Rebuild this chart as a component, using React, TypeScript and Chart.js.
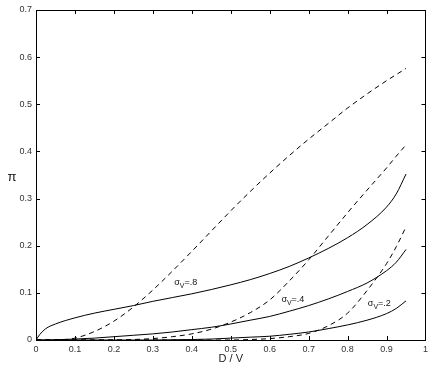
import React, { useEffect, useRef } from "react";
import { Chart, registerables } from "chart.js";

Chart.register(...registerables);

const xValues = [0, 0.01, 0.025, 0.05, 0.1, 0.15, 0.2, 0.25, 0.3, 0.35, 0.4, 0.45, 0.5, 0.55, 0.6, 0.65, 0.7, 0.75, 0.8, 0.85, 0.9, 0.925, 0.95];

const solid08 = [0, 0.012, 0.024, 0.034, 0.047, 0.057, 0.065, 0.073, 0.082, 0.09, 0.098, 0.107, 0.117, 0.128, 0.141, 0.156, 0.174, 0.194, 0.217, 0.245, 0.282, 0.31, 0.352];
const solid04 = [0, 0, 0, 0.0005, 0.002, 0.004, 0.007, 0.01, 0.013, 0.017, 0.022, 0.027, 0.034, 0.042, 0.05, 0.061, 0.073, 0.087, 0.103, 0.121, 0.147, 0.165, 0.192];
const solid02 = [0, 0, 0, 0, 0, 0, 0, 0, 0, 0.0005, 0.001, 0.002, 0.004, 0.006, 0.008, 0.012, 0.017, 0.024, 0.032, 0.042, 0.056, 0.067, 0.083];
const dashed08 = [0, 0, 0, 0, 0.004, 0.018, 0.04, 0.07, 0.106, 0.146, 0.188, 0.231, 0.274, 0.315, 0.354, 0.391, 0.426, 0.459, 0.492, 0.522, 0.55, 0.563, 0.576];
const dashed04 = [0, 0, 0, 0, 0, 0, 0, 0.001, 0.003, 0.007, 0.013, 0.023, 0.038, 0.058, 0.085, 0.125, 0.17, 0.22, 0.27, 0.318, 0.365, 0.39, 0.414];
const dashed02 = [0, 0, 0, 0, 0, 0, 0, 0, 0, 0, 0, 0, 0, 0.001, 0.003, 0.007, 0.014, 0.03, 0.057, 0.105, 0.162, 0.198, 0.24];

const xTickValues = [0, 0.1, 0.2, 0.3, 0.4, 0.5, 0.6, 0.7, 0.8, 0.9, 1];
const xTickLabels = ["0", "0.1", "0.2", "0.3", "0.4", "0.5", "0.6", "0.7", "0.8", "0.9", "1"];
const yTickValues = [0, 0.1, 0.2, 0.3, 0.4, 0.5, 0.6, 0.7];
const yTickLabels = ["0", "0.1", "0.2", "0.3", "0.4", "0.5", "0.6", "0.7"];

const curveLabels = [
  { x: 0.355, y: 0.117, sub: "V", text: "=.8" },
  { x: 0.63, y: 0.081, sub: "V", text: "=.4" },
  { x: 0.852, y: 0.072, sub: "V", text: "=.2" },
];

const FONT = "'Liberation Sans', Arial, sans-serif";

function pts(ys: number[]) {
  return xValues.map((x, i) => ({ x, y: ys[i] }));
}

const framePlugin = {
  id: "frame",
  afterDraw(chart: any) {
    const ctx = chart.ctx;
    const { left, right, top, bottom } = chart.chartArea;
    const xs = chart.scales.x;
    const ys = chart.scales.y;
    ctx.save();
    ctx.strokeStyle = "#000";
    ctx.lineWidth = 1;
    ctx.beginPath();
    ctx.rect(Math.round(left) + 0.5, Math.round(top) + 0.5, Math.round(right - left), Math.round(bottom - top));
    ctx.stroke();
    const L = 4;
    ctx.beginPath();
    xTickValues.forEach((v) => {
      const px = Math.round(xs.getPixelForValue(v)) + 0.5;
      ctx.moveTo(px, bottom);
      ctx.lineTo(px, bottom - L);
      ctx.moveTo(px, top);
      ctx.lineTo(px, top + L);
    });
    yTickValues.forEach((v) => {
      const py = Math.round(ys.getPixelForValue(v)) + 0.5;
      ctx.moveTo(left, py);
      ctx.lineTo(left + L, py);
      ctx.moveTo(right, py);
      ctx.lineTo(right - L, py);
    });
    ctx.stroke();

    // curve labels
    ctx.fillStyle = "#111";
    ctx.textBaseline = "alphabetic";
    curveLabels.forEach((l) => {
      let px = xs.getPixelForValue(l.x);
      const py = ys.getPixelForValue(l.y);
      ctx.font = `9px ${FONT}`;
      ctx.textAlign = "left";
      ctx.fillText("σ", px, py);
      px += ctx.measureText("σ").width;
      ctx.font = `7px ${FONT}`;
      ctx.fillText(l.sub, px, py + 3);
      px += ctx.measureText(l.sub).width;
      ctx.font = `9px ${FONT}`;
      ctx.fillText(l.text, px, py);
    });

    // x title
    ctx.font = `11px ${FONT}`;
    ctx.textAlign = "center";
    ctx.textBaseline = "middle";
    ctx.fillStyle = "#222";
    ctx.fillText("D / V", (left + right) / 2, 359);

    // y title pi
    ctx.font = `13px ${FONT}`;
    ctx.fillStyle = "#111";
    ctx.fillText("π", 12, (top + bottom) / 2 + 2);
    ctx.restore();
  },
};

export default function App() {
  const ref = useRef<HTMLCanvasElement>(null);
  useEffect(() => {
    document.body.style.margin = "0";
    const line = (data: number[], dashed: boolean) => ({
      data: pts(data),
      borderColor: "#000",
      borderWidth: 1,
      borderDash: dashed ? [5, 4] : [],
      pointRadius: 0,
      fill: false,
      showLine: true,
      cubicInterpolationMode: "monotone" as const,
    });
    const chart = new Chart(ref.current!, {
      type: "scatter",
      data: {
        datasets: [
          line(solid08, false),
          line(solid04, false),
          line(solid02, false),
          line(dashed08, true),
          line(dashed04, true),
          line(dashed02, true),
        ],
      },
      options: {
        animation: false,
        responsive: false,
        layout: { padding: { top: 10, right: 5, left: 0, bottom: 0 } },
        plugins: { legend: { display: false }, tooltip: { enabled: false } },
        scales: {
          x: {
            type: "linear",
            min: 0,
            max: 1,
            afterBuildTicks: (s: any) => {
              s.ticks = xTickValues.map((v) => ({ value: v }));
            },
            afterFit: (s: any) => {
              s.height = 28;
            },
            grid: { display: false, drawTicks: false },
            border: { display: true, color: "#000" },
            ticks: {
              padding: 4,
              color: "#333",
              font: { family: FONT, size: 9 },
              maxRotation: 0,
              callback: (v: any, i: number) => xTickLabels[i],
            },
          },
          y: {
            type: "linear",
            min: 0,
            max: 0.7,
            afterBuildTicks: (s: any) => {
              s.ticks = yTickValues.map((v) => ({ value: v }));
            },
            afterFit: (s: any) => {
              s.width = 36;
            },
            grid: { display: false, drawTicks: false },
            border: { display: true, color: "#000" },
            ticks: {
              padding: 4,
              color: "#333",
              font: { family: FONT, size: 9 },
              callback: (v: any, i: number) => yTickLabels[i],
            },
          },
        },
      },
      plugins: [framePlugin],
    });
    return () => chart.destroy();
  }, []);
  return (
    <div style={{ width: 432, height: 368, background: "#fff" }}>
      <canvas ref={ref} width={432} height={368} />
    </div>
  );
}
